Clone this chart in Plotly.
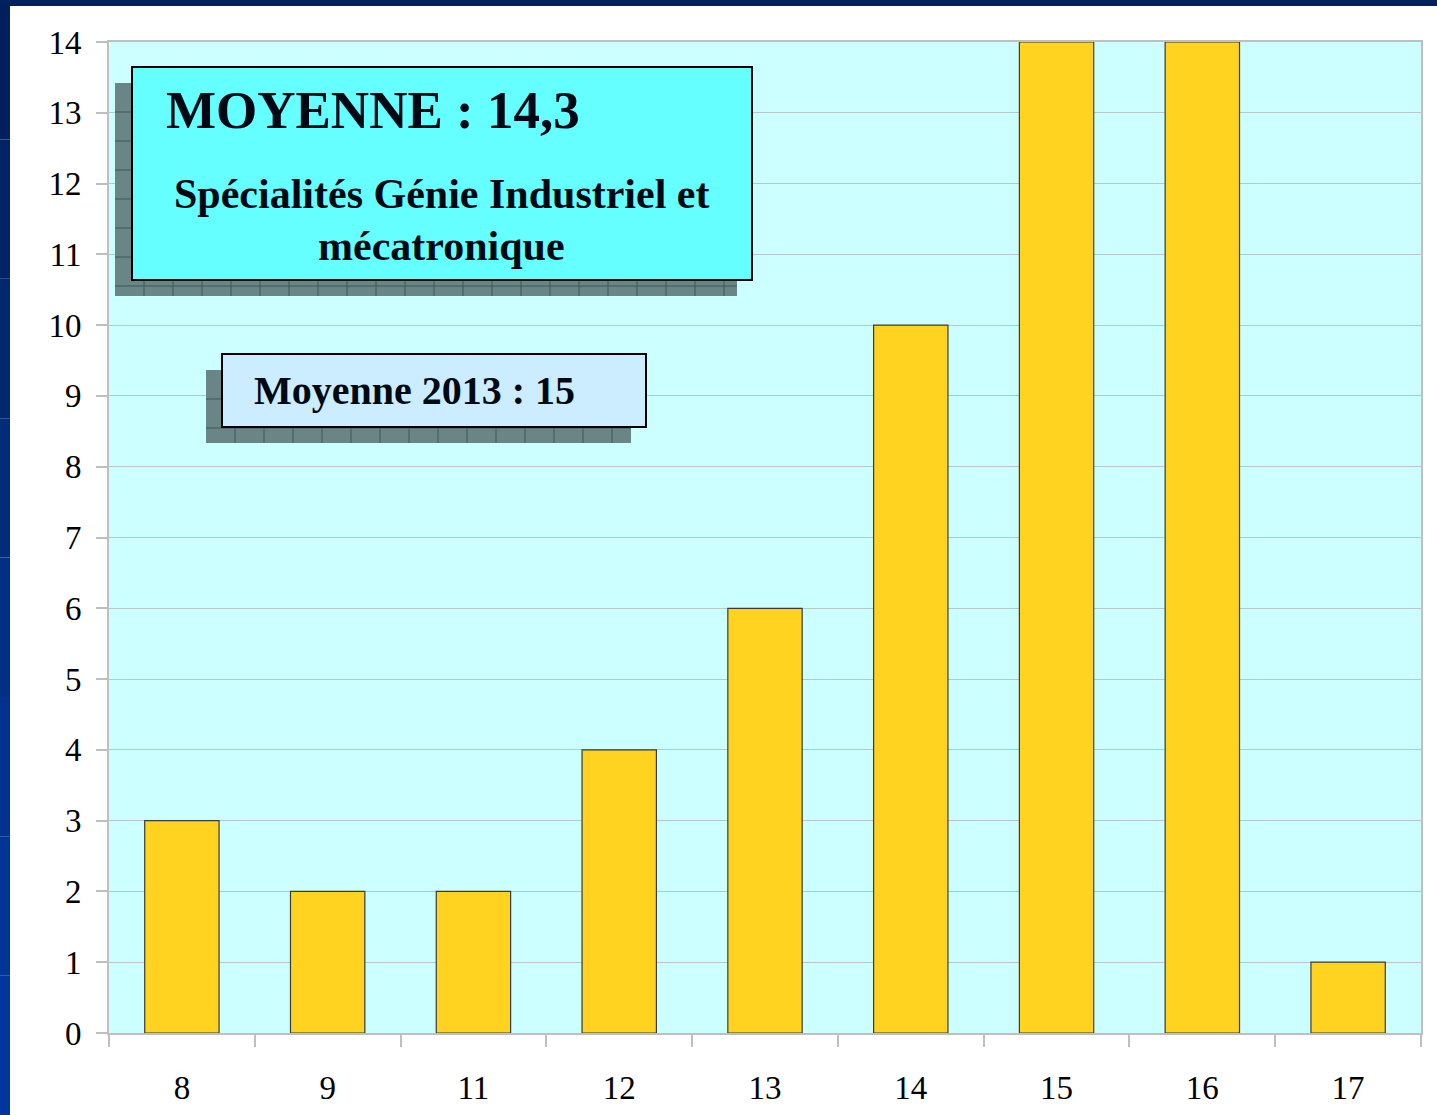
import plotly.graph_objects as go

categories = ["8", "9", "11", "12", "13", "14", "15", "16", "17"]
counts = [3, 2, 2, 4, 6, 10, 14, 14, 1]
y_ticks = list(range(0, 15))

W, H = 1437, 1115
L, R, T, B = 109, 1421, 42, 1033


def px(x):
    return (x - L) / (R - L)


def py(y):
    return (B - y) / (B - T)


fig = go.Figure()
fig.add_trace(go.Bar(
    x=categories, y=counts, width=0.51,
    marker=dict(color="#FFD320", line=dict(color="#3a3a3a", width=1.2)),
    hoverinfo="x+y",
))

shapes = []
# slide border (blue bands, darker toward the top)
band_cols = ["#001F5C", "#002366", "#00286F", "#002C7A", "#003085", "#00338F", "#003598", "#00379E"]
n = len(band_cols)
for i, c in enumerate(band_cols):
    y0p = 1115 * i / n
    y1p = 1115 * (i + 1) / n
    shapes.append(dict(type="rect", xref="paper", yref="paper", x0=px(0), x1=px(10), y0=py(y1p), y1=py(y0p),
                       fillcolor=c, line=dict(width=0), layer="above"))
shapes.append(dict(type="rect", xref="paper", yref="paper", x0=px(0), x1=px(1437), y0=py(6), y1=py(0),
                   fillcolor="#002060", line=dict(width=0), layer="above"))


def shadow_box(x0, y0, x1, y1, step):
    shapes.append(dict(type="rect", xref="paper", yref="paper", x0=px(x0), x1=px(x1), y0=py(y1), y1=py(y0),
                       fillcolor="#6A8585", line=dict(width=0), layer="above"))
    gx = x0 + step
    while gx < x1:
        shapes.append(dict(type="line", xref="paper", yref="paper", x0=px(gx), x1=px(gx), y0=py(y1), y1=py(y0),
                           line=dict(color="#3E5656", width=1), layer="above"))
        gx += step
    gy = y0 + step
    while gy < y1:
        shapes.append(dict(type="line", xref="paper", yref="paper", x0=px(x0), x1=px(x1), y0=py(gy), y1=py(gy),
                           line=dict(color="#3E5656", width=1), layer="above"))
        gy += step


shadow_box(115, 83, 737, 296, 29)
shapes.append(dict(type="rect", xref="paper", yref="paper", x0=px(132), x1=px(752), y0=py(280), y1=py(67),
                   fillcolor="#66FFFF", line=dict(color="#000000", width=2), layer="above"))
shadow_box(206, 370, 631, 443, 29)
shapes.append(dict(type="rect", xref="paper", yref="paper", x0=px(222), x1=px(646), y0=py(427), y1=py(354),
                   fillcolor="#CCECFF", line=dict(color="#000000", width=2), layer="above"))

annotations = [
    dict(text="<b>MOYENNE : 14,3</b>", xref="paper", yref="paper", x=px(164), y=py(110),
         xanchor="left", yanchor="middle", showarrow=False,
         font=dict(family="Liberation Serif, serif", size=53, color="#000814")),
    dict(text="<b>Spécialités Génie Industriel et</b>", xref="paper", yref="paper", x=px(442), y=py(194),
         xanchor="center", yanchor="middle", showarrow=False,
         font=dict(family="Liberation Serif, serif", size=42, color="#000814")),
    dict(text="<b>mécatronique</b>", xref="paper", yref="paper", x=px(442), y=py(246),
         xanchor="center", yanchor="middle", showarrow=False,
         font=dict(family="Liberation Serif, serif", size=42, color="#000814")),
    dict(text="<b>Moyenne 2013 : 15</b>", xref="paper", yref="paper", x=px(252), y=py(391),
         xanchor="left", yanchor="middle", showarrow=False,
         font=dict(family="Liberation Serif, serif", size=40, color="#000814")),
]

fig.update_layout(
    width=W, height=H,
    margin=dict(l=L, r=W - R, t=T, b=H - B, autoexpand=False),
    paper_bgcolor="#FFFFFF", plot_bgcolor="#CCFFFF",
    showlegend=False, bargap=0.49,
    shapes=shapes, annotations=annotations,
    font=dict(family="Liberation Serif, serif", color="#000000"),
)
fig.update_xaxes(
    type="category", tickson="boundaries", ticks="outside", ticklen=12, tickcolor="#BFBFBF", tickwidth=2,
    showline=True, linecolor="#BFBFBF", linewidth=2, mirror=True, showgrid=False,
    tickfont=dict(family="Liberation Serif, serif", size=33, color="#000000"),
    ticklabelstandoff=24,
)
fig.update_yaxes(
    range=[0, 14], tickvals=y_ticks, ticks="outside", ticklen=11, tickcolor="#BFBFBF", tickwidth=2,
    showline=True, linecolor="#BFBFBF", linewidth=2, mirror=True,
    showgrid=True, gridcolor="#B8C8C8", gridwidth=1, zeroline=False,
    tickfont=dict(family="Liberation Serif, serif", size=33, color="#000000"),
    ticklabelstandoff=8,
)

fig.write_html("out.html", config={"displayModeBar": False},
               post_script="document.body.style.margin='0px';")
